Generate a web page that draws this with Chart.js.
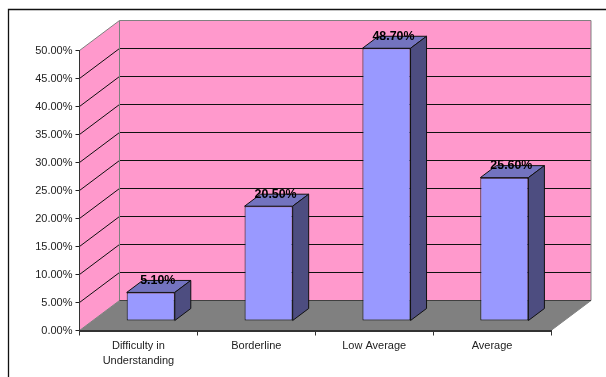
<!DOCTYPE html>
<html lang="en">
<head>
    <meta charset="UTF-8">
    <title>Difficulty in Understanding</title>
    <style>
        html, body { margin: 0; padding: 0; background: #fff; overflow: hidden; }
        #wrap { width: 606px; height: 377px; position: relative; }
    </style>
</head>
<body>
<div id="wrap"><canvas id="myChart" width="606" height="377"></canvas></div>

<script src="https://cdn.jsdelivr.net/npm/chart.js@4/dist/chart.umd.min.js"></script>
<script>
    var categories = [['Difficulty in', 'Understanding'], 'Borderline', 'Low Average', 'Average'];
    var shares = [5.1, 20.5, 48.7, 25.6];
    var yTicks = [0, 5, 10, 15, 20, 25, 30, 35, 40, 45, 50];

    // 3D look: how far the back wall and the bars sit from the front plane
    var wallDx = 40, wallDy = -30;
    var barDx = 12.3, barDy = -9.5;
    var sideDx = 16, sideDy = -12;

    function percent(v) {
        return v.toFixed(2) + '%';
    }

    function poly(ctx, pts, fill, stroke, width) {
        ctx.beginPath();
        ctx.moveTo(pts[0][0], pts[0][1]);
        for (var i = 1; i < pts.length; i++) {
            ctx.lineTo(pts[i][0], pts[i][1]);
        }
        ctx.closePath();
        ctx.fillStyle = fill;
        ctx.fill();
        if (stroke) {
            ctx.strokeStyle = stroke;
            ctx.lineWidth = width || 1;
            ctx.stroke();
        }
    }

    var box3d = {
        id: 'box3d',
        beforeDraw: function (chart) {
            var ctx = chart.ctx, a = chart.chartArea, y = chart.scales.y;
            ctx.save();

            // outer frame, runs off the right and bottom of the picture
            ctx.strokeStyle = '#111';
            ctx.lineWidth = 1.3;
            ctx.beginPath();
            ctx.moveTo(8.5, 377);
            ctx.lineTo(8.5, 9.5);
            ctx.lineTo(606, 9.5);
            ctx.stroke();

            var l = a.left, r = a.right, t = a.top, b = a.bottom;

            poly(ctx, [[l + wallDx, t + wallDy], [r + wallDx, t + wallDy], [r + wallDx, b + wallDy], [l + wallDx, b + wallDy]], '#ff99cc');
            poly(ctx, [[l, t], [l + wallDx, t + wallDy], [l + wallDx, b + wallDy], [l, b]], '#ff99cc');
            poly(ctx, [[l, b], [l + wallDx, b + wallDy], [r + wallDx, b + wallDy], [r, b]], '#808080');

            // grid lines run along the side wall and across the back wall
            ctx.strokeStyle = '#111';
            ctx.lineWidth = 1;
            ctx.beginPath();
            yTicks.forEach(function (v) {
                if (v === 0 || v === 50) return;
                var py = y.getPixelForValue(v);
                ctx.moveTo(l, py);
                ctx.lineTo(l + wallDx, py + wallDy);
                ctx.lineTo(r + wallDx, py + wallDy);
            });
            ctx.stroke();

            // wall edges
            ctx.strokeStyle = '#808080';
            ctx.beginPath();
            ctx.moveTo(l, t);
            ctx.lineTo(l + wallDx, t + wallDy);
            ctx.lineTo(r + wallDx, t + wallDy);
            ctx.lineTo(r + wallDx, b + wallDy);
            ctx.moveTo(l + wallDx, t + wallDy);
            ctx.lineTo(l + wallDx, b + wallDy);
            ctx.moveTo(l, b);
            ctx.lineTo(l + wallDx, b + wallDy);
            ctx.moveTo(r + wallDx, b + wallDy);
            ctx.lineTo(r, b);
            ctx.stroke();

            ctx.strokeStyle = '#404040';
            ctx.beginPath();
            ctx.moveTo(l + wallDx, b + wallDy);
            ctx.lineTo(r + wallDx, b + wallDy);
            ctx.stroke();

            ctx.restore();
        },
        beforeDatasetDraw: function (chart) {
            chart.ctx.save();
            chart.ctx.translate(barDx, barDy);
        },
        afterDatasetDraw: function (chart, args) {
            var ctx = chart.ctx;
            args.meta.data.forEach(function (bar, i) {
                var p = bar.getProps(['x', 'y', 'base', 'width'], true);
                var l = p.x - p.width / 2, r = p.x + p.width / 2;
                poly(ctx, [[l, p.y], [l + sideDx, p.y + sideDy], [r + sideDx, p.y + sideDy], [r, p.y]], '#7373bf', '#111');
                poly(ctx, [[r, p.y], [r + sideDx, p.y + sideDy], [r + sideDx, p.base + sideDy], [r, p.base]], '#4d4d80', '#111');

                // value label sits on the back edge of the bar top
                ctx.fillStyle = '#000';
                ctx.font = 'bold 12.4px "Liberation Sans", Arial, sans-serif';
                ctx.textAlign = 'center';
                ctx.textBaseline = 'middle';
                ctx.fillText(percent(shares[i]), p.x + sideDx / 2 - 1, p.y + sideDy);
            });
            ctx.restore();
        }
    };

    new Chart(document.getElementById('myChart').getContext('2d'), {
        type: 'bar',
        data: {
            labels: categories,
            datasets: [{
                data: shares,
                backgroundColor: '#9999ff',
                borderColor: '#111',
                borderWidth: 1,
                borderSkipped: false,
                barPercentage: 0.408,
                categoryPercentage: 1,
                clip: false
            }]
        },
        options: {
            responsive: false,
            animation: false,
            layout: { padding: { top: 50.5, right: 55, left: 0, bottom: 0 } },
            plugins: { legend: { display: false }, tooltip: { enabled: false } },
            scales: {
                x: {
                    afterFit: function (scale) { scale.height = 46.5; },
                    border: { color: '#333', width: 2 },
                    grid: { drawOnChartArea: false, color: '#333', tickLength: 5, offset: true },
                    ticks: {
                        maxRotation: 0,
                        autoSkip: false,
                        padding: 3,
                        color: '#222',
                        font: { family: '"Liberation Sans", Arial, sans-serif', size: 11, lineHeight: 1.36 }
                    }
                },
                y: {
                    min: 0,
                    max: 50,
                    afterFit: function (scale) { scale.width = 79.5; },
                    afterBuildTicks: function (scale) {
                        scale.ticks = yTicks.map(function (v) { return { value: v }; });
                    },
                    border: { color: '#333', width: 1 },
                    grid: { drawOnChartArea: false, color: '#222', tickLength: 4 },
                    ticks: {
                        padding: 3,
                        color: '#222',
                        callback: percent,
                        font: { family: '"Liberation Sans", Arial, sans-serif', size: 11 }
                    }
                }
            }
        },
        plugins: [box3d]
    });
</script>
</body>
</html>
